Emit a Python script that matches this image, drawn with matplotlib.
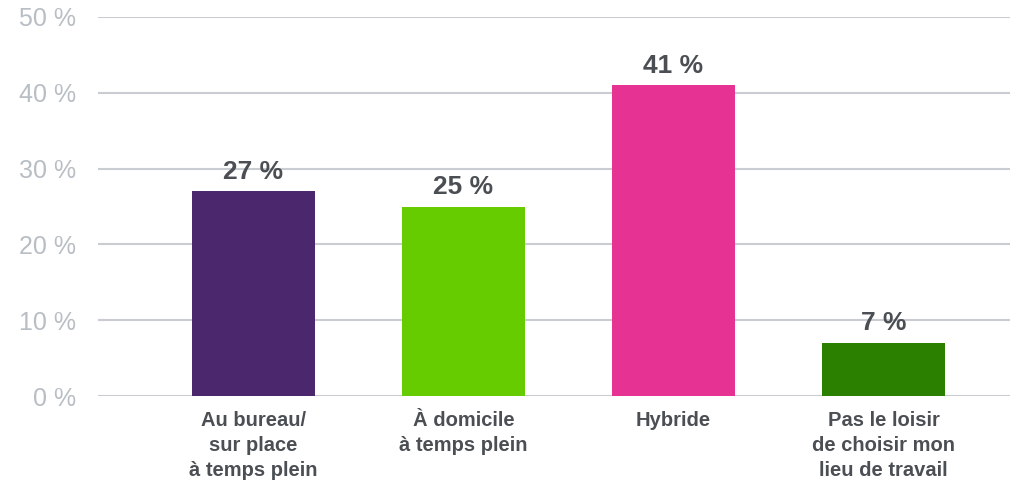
import matplotlib.pyplot as plt

categories = ['Au bureau/\nsur place\nà temps plein',
              'À domicile\nà temps plein',
              'Hybride',
              'Pas le loisir\nde choisir mon\nlieu de travail']
values = [27, 25, 41, 7]
colors = ['#4B286D', '#66CC00', '#E53293', '#2B8000']
yticks = [0, 10, 20, 30, 40, 50]

plt.rcParams['font.family'] = ['Liberation Sans', 'DejaVu Sans']

fig = plt.figure(figsize=(10.2, 4.82), dpi=100)
ax = fig.add_axes([98/1020, 1 - 396/482, 912/1020, 379/482])

x = range(len(values))
bars = ax.bar(x, values, width=0.586, color=colors, zorder=3)

for b, v in zip(bars, values):
    ax.text(b.get_x() + b.get_width()/2, v + 1.0, f'{v} %',
            ha='center', va='bottom', fontsize=19, fontweight='bold',
            color='#4B4F54', zorder=4)

ax.set_xlim(-0.74, 3.602)
ax.set_ylim(0, 50)
ax.set_yticks(yticks)
ax.set_yticklabels([f'{t} %' for t in yticks])
ax.set_xticks(list(x))
ax.set_xticklabels(categories, linespacing=1.4)
ax.tick_params(axis='y', length=0, pad=16, labelsize=18, labelcolor='#B8BEC4')
ax.tick_params(axis='x', length=0, pad=11, labelsize=14.5, labelcolor='#4B4F54')
for lbl in ax.get_xticklabels():
    lbl.set_fontweight('bold')

ax.grid(axis='y', color='#C9CCD0', linewidth=1.5, zorder=0)
for s in ax.spines.values():
    s.set_visible(False)

fig.savefig('out.png', dpi=100)
